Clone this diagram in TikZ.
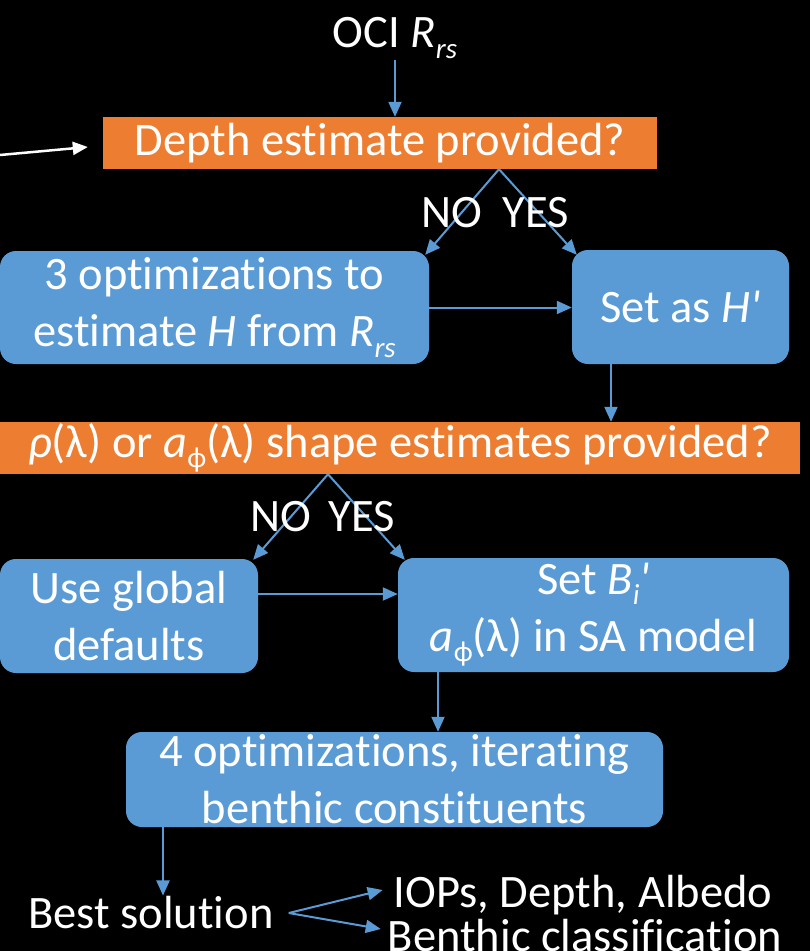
\documentclass[tikz,border=0pt]{standalone}
\usepackage{fontspec}
\setmainfont{Carlito}[Ligatures={NoCommon}]
\usetikzlibrary{positioning,arrows.meta}

\definecolor{ocean}{HTML}{5B9BD5}
\definecolor{amber}{HTML}{ED7D31}
\newcommand{\subtxt}[1]{\raisebox{-0.22em}{\fontsize{29}{29}\selectfont #1}}

\tikzset{
  question/.style={fill=amber, text=white, minimum height=52pt, inner sep=0pt},
  task/.style={fill=ocean, text=white, rounded corners=16pt, align=center, inner sep=0pt},
  txt/.style={text=white, inner sep=1pt},
  flow/.style={draw=ocean, line width=2pt, -{Triangle[length=15pt,width=13pt]}},
}

\begin{document}
\begin{tikzpicture}[x=1pt,y=-1pt,font=\fontsize{46.5}{57}\selectfont]
  \fill[black] (0,0) rectangle (810,951);
  \useasboundingbox (0,0) rectangle (810,951);

  \node[txt] (oci) at (395,38) {OCI \textit{R}\subtxt{\textit{rs}}};
  \node[question, minimum width=554pt] (depthq) at (380,143) {Depth estimate provided?};
  \node[task, minimum width=429pt, minimum height=113pt] (optH) at (214.5,307.5)
       {3 optimizations to\\estimate \textit{H} from \textit{R}\subtxt{\textit{rs}}};
  \node[task, minimum width=217pt, minimum height=114pt] (setH) at (680.5,307) {Set as \textit{H\textquotesingle}};
  \node[question, minimum width=800pt] (shapeq) at (400,448)
       {\textit{ρ}(λ) or \textit{a}\subtxt{ϕ}(λ) shape estimates provided?\hspace{18pt}};
  \node[task, minimum width=258pt, minimum height=114pt] (globdef) at (129,616) {Use global\\defaults};
  \node[task, minimum width=391pt, minimum height=114pt] (setB) at (593.5,615)
       {Set \textit{B}\subtxt{\textit{i}}\textit{\textquotesingle}\\\textit{a}\subtxt{ϕ}(λ) in SA model};
  \node[task, minimum width=537pt, minimum height=95pt] (optB) at (394.5,779.5)
       {4 optimizations, iterating\\benthic constituents};
  \node[txt] (best) at (151,913) {Best solution};
  \node[txt] (iops) at (583,895) {IOPs, Depth, Albedo};
  \node[txt] (benthic) at (585,936) {Benthic classification};

  % depth branch
  \coordinate (dsplit) at ([xshift=119pt]depthq.south);
  \coordinate (feed) at (0,155);
  \draw[white, line width=2.5pt, -{Triangle[length=15pt,width=13pt]}] (feed) -- ([shift={(-15,4)}]depthq.west);
  \draw[flow] (oci.south) -- (oci.south |- depthq.north);
  \draw[flow] (dsplit) -- ([shift={(-4,4)}]optH.north east);
  \draw[flow] (dsplit) -- ([shift={(5,5)}]setH.north west);
  \node[txt] (noH) at (452,213) {NO};
  \node[txt] (yesH) at (536,213) {YES};
  \draw[flow] (optH.east) -- (optH.east -| setH.west);
  \coordinate (hout) at ([xshift=-69.5pt]setH.south);
  \draw[flow] (hout) -- (hout |- shapeq.north);

  % shape branch
  \coordinate (ssplit) at ([xshift=-72pt]shapeq.south);
  \draw[flow] (ssplit) -- ([shift={(-5,1)}]globdef.north east);
  \draw[flow] (ssplit) -- ([shift={(7,2)}]setB.north west);
  \node[txt] (noB) at (281,517) {NO};
  \node[txt] (yesB) at (362,517) {YES};
  \draw[flow] ([yshift=22pt]globdef.east) -- ([yshift=22pt]globdef.east -| setB.west);
  \coordinate (bout) at ([xshift=-155.5pt]setB.south);
  \draw[flow] (bout) -- (bout |- optB.north);

  % result
  \coordinate (oout) at ([xshift=-231.5pt]optB.south);
  \draw[flow] (oout) -- (oout |- best.north);
  \coordinate (bfork) at ([xshift=14pt]best.east);
  \draw[flow] (bfork) -- ([shift={(-10,-5)}]iops.west);
  \draw[flow] (bfork) -- ([shift={(-6,-7)}]benthic.west);
\end{tikzpicture}
\end{document}
